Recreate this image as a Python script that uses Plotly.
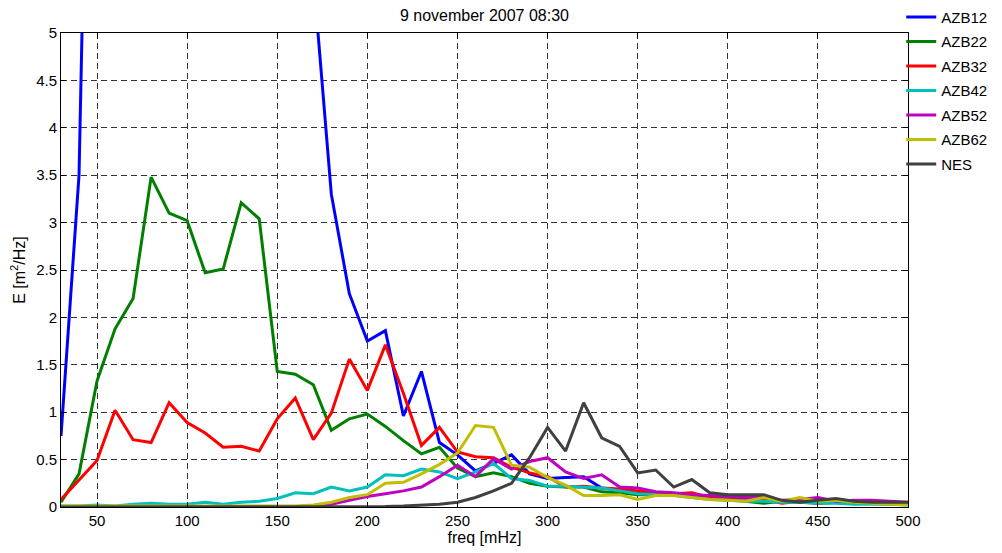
import plotly.graph_objects as go

freq = [30, 40, 50, 60, 70, 80, 90, 100, 110, 120, 130, 140, 150, 160, 170, 180,
        190, 200, 210, 220, 230, 240, 250, 260, 270, 280, 290, 300, 310, 320, 330,
        340, 350, 360, 370, 380, 390, 400, 410, 420, 430, 440, 450, 460, 470, 480,
        490, 500]

azb12 = [0.75, 3.5, 12.6, 18, 22, 25, 24, 20, 17, 14, 12, 10, 9, 7.5, 5.6, 3.3,
         2.25, 1.75, 1.86, 0.96, 1.43, 0.68, 0.55, 0.38, 0.46, 0.55, 0.35, 0.30, 0.31, 0.32, 0.20,
         0.18, 0.15, 0.14, 0.13, 0.12, 0.10, 0.10, 0.09, 0.08, 0.06, 0.07, 0.05, 0.05, 0.04, 0.04,
         0.04, 0.04]
azb22 = [0.05, 0.35, 1.33, 1.88, 2.2, 3.48, 3.1, 3.02, 2.47, 2.51, 3.21, 3.04, 1.43, 1.4, 1.29, 0.81,
         0.93, 0.98, 0.85, 0.7, 0.56, 0.63, 0.41, 0.32, 0.36, 0.32, 0.25, 0.22, 0.21, 0.21, 0.16,
         0.15, 0.13, 0.13, 0.12, 0.12, 0.10, 0.08, 0.06, 0.04, 0.06, 0.05, 0.04, 0.05, 0.04, 0.04,
         0.04, 0.04]
azb32 = [0.08, 0.28, 0.49, 1.02, 0.71, 0.68, 1.1, 0.89, 0.78, 0.63, 0.64, 0.59, 0.93, 1.15, 0.71, 0.99,
         1.56, 1.23, 1.71, 1.2, 0.65, 0.84, 0.58, 0.53, 0.52, 0.42, 0.36, 0.32, 0.21, 0.22, 0.20,
         0.19, 0.17, 0.15, 0.14, 0.15, 0.10, 0.08, 0.07, 0.08, 0.04, 0.06, 0.04, 0.05, 0.04, 0.04,
         0.03, 0.03]
azb42 = [0.01, 0.01, 0.02, 0.01, 0.03, 0.04, 0.03, 0.03, 0.05, 0.03, 0.05, 0.06, 0.09, 0.15, 0.14, 0.21,
         0.17, 0.21, 0.34, 0.33, 0.40, 0.37, 0.30, 0.37, 0.46, 0.30, 0.28, 0.22, 0.22, 0.21, 0.20,
         0.17, 0.14, 0.13, 0.12, 0.10, 0.08, 0.07, 0.06, 0.06, 0.05, 0.05, 0.04, 0.04, 0.03, 0.03,
         0.03, 0.02]
azb52 = [0.0, 0.0, 0.0, 0.0, 0.0, 0.0, 0.0, 0.0, 0.0, 0.0, 0.0, 0.0, 0.0, 0.0, 0.01, 0.03,
         0.07, 0.11, 0.14, 0.17, 0.21, 0.32, 0.44, 0.32, 0.51, 0.40, 0.48, 0.52, 0.37, 0.30, 0.34,
         0.21, 0.20, 0.16, 0.15, 0.13, 0.12, 0.11, 0.10, 0.10, 0.07, 0.08, 0.10, 0.06, 0.07, 0.07,
         0.06, 0.05]
azb62 = [0.01, 0.01, 0.01, 0.01, 0.01, 0.01, 0.01, 0.01, 0.01, 0.01, 0.01, 0.01, 0.01, 0.01, 0.02, 0.05,
         0.10, 0.13, 0.25, 0.26, 0.35, 0.45, 0.57, 0.86, 0.84, 0.44, 0.42, 0.31, 0.23, 0.12, 0.12,
         0.13, 0.08, 0.12, 0.12, 0.10, 0.08, 0.07, 0.06, 0.10, 0.06, 0.10, 0.06, 0.07, 0.05, 0.04,
         0.03, 0.02]
nes = [0.0, 0.0, 0.0, 0.0, 0.0, 0.0, 0.0, 0.0, 0.0, 0.0, 0.0, 0.0, 0.0, 0.0, 0.0, 0.0,
       0.0, 0.0, 0.005, 0.01, 0.02, 0.03, 0.05, 0.10, 0.17, 0.25, 0.52, 0.84, 0.59, 1.10, 0.73,
       0.64, 0.36, 0.39, 0.21, 0.29, 0.15, 0.13, 0.13, 0.13, 0.07, 0.05, 0.07, 0.09, 0.06, 0.05,
       0.05, 0.05]

series = [
    ("AZB12", azb12, "#0000FF"),
    ("AZB22", azb22, "#008000"),
    ("AZB32", azb32, "#FF0000"),
    ("AZB42", azb42, "#00BFBF"),
    ("AZB52", azb52, "#BF00BF"),
    ("AZB62", azb62, "#BFBF00"),
    ("NES", nes, "#404040"),
]

x_ticks = [50, 100, 150, 200, 250, 300, 350, 400, 450, 500]
y_ticks = [0, 0.5, 1, 1.5, 2, 2.5, 3, 3.5, 4, 4.5, 5]
y_ticklabels = ["0", "0.5", "1", "1.5", "2", "2.5", "3", "3.5", "4", "4.5", "5"]

fig = go.Figure()
for name, vals, color in series:
    fig.add_trace(go.Scatter(
        x=freq, y=vals, mode="lines", name=name, legendgroup=name,
        line=dict(color=color, width=3),
    ))

axis_common = dict(
    showline=True, linecolor="black", linewidth=1, mirror="ticks",
    ticks="inside", ticklen=5, tickcolor="black",
    showgrid=True, gridcolor="rgba(0,0,0,0.8)", gridwidth=1, griddash="6px,4px",
    zeroline=False, tickfont=dict(size=15, color="black"),
)

fig.update_xaxes(range=[30, 500], tickvals=x_ticks,
                 title=dict(text="freq [mHz]", font=dict(size=16, color="black"), standoff=1),
                 **axis_common)
fig.update_yaxes(range=[0, 5], tickvals=y_ticks, ticktext=y_ticklabels,
                 title=dict(text="E [m<sup>2</sup>/Hz]", font=dict(size=16, color="black"), standoff=6),
                 **axis_common)

fig.update_layout(
    width=1002, height=553,
    margin=dict(l=61, r=94, t=33, b=46, autoexpand=False),
    paper_bgcolor="white", plot_bgcolor="white",
    font=dict(family="Liberation Sans, Arial, sans-serif", size=15, color="black"),
    title=dict(text="9 november 2007 08:30", x=0.4835, xanchor="center",
               y=0.973, yanchor="middle", font=dict(size=16, color="black")),
    legend=dict(x=0.992, y=1.068, xanchor="left", yanchor="top",
                font=dict(size=15, color="black"), tracegroupgap=2,
                itemwidth=30, bgcolor="rgba(0,0,0,0)"),
    showlegend=True,
)

fig.write_html("out.html")
